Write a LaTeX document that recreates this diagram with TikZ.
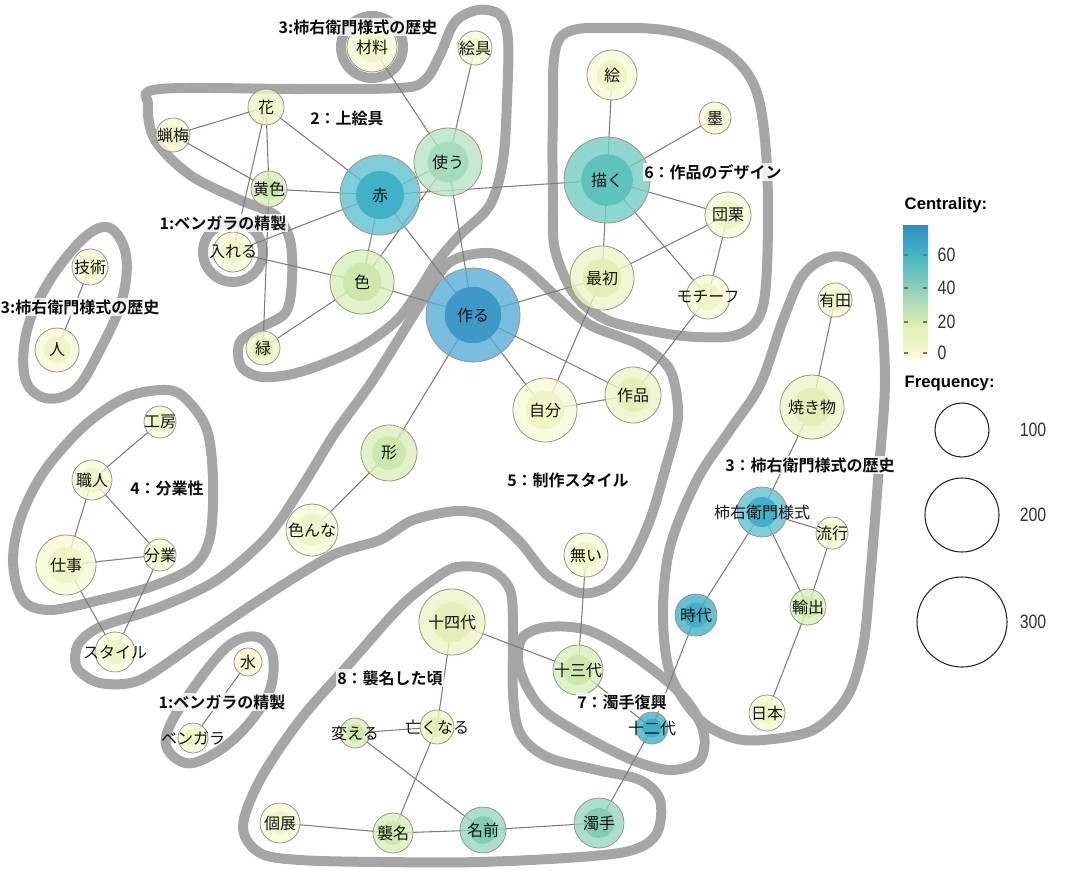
\documentclass[tikz,border=0pt]{standalone}
\usepackage{fontspec}
\setmainfont{Liberation Sans}
\newfontfamily\jp{Noto Sans CJK JP}[BoldFont={Noto Sans CJK JP Bold}]
\usepackage{tikz}
\usetikzlibrary{calc}
\pgfdeclarelayer{hulls}
\pgfdeclarelayer{edges}
\pgfsetlayers{hulls,edges,main}

\definecolor{hullgray}{HTML}{A6A6A6}
\definecolor{kwline}{HTML}{9C9582}
\definecolor{edgecol}{HTML}{857A77}
\definecolor{czo}{HTML}{F9F9D6}
\definecolor{czi}{HTML}{F1F4C6}
\definecolor{coo}{HTML}{EFF4C8}
\definecolor{coi}{HTML}{E5EEB6}
\definecolor{cto}{HTML}{DAEDBA}
\definecolor{cti}{HTML}{CDE7AD}
\definecolor{cuo}{HTML}{B8E3C6}
\definecolor{cui}{HTML}{A5DCBC}
\definecolor{cfo}{HTML}{95D6C0}
\definecolor{cfi}{HTML}{83CDB6}
\definecolor{cgo}{HTML}{76CDC5}
\definecolor{cgi}{HTML}{5EC3BD}
\definecolor{cbo}{HTML}{60C0D1}
\definecolor{cbi}{HTML}{40B1C7}
\definecolor{cdo}{HTML}{58ACD7}
\definecolor{cdi}{HTML}{3D9AC8}
\definecolor{bar0}{HTML}{FCFBD5}
\definecolor{bar20}{HTML}{D8EDB1}
\definecolor{bar40}{HTML}{8CD0BA}
\definecolor{bar60}{HTML}{44B5C4}
\definecolor{bartop}{HTML}{2D8DBF}

\begin{document}
\begin{tikzpicture}[x=0.75pt, y=-0.75pt,
	kw/.style n args={3}{circle, draw=kwline, line width=0.6pt, inner sep=0pt,
		minimum size=#1*1.5pt, fill=#2, fill opacity=0.8, text opacity=1,
		text=black!92, font=\jp\fontsize{12}{14}\selectfont,
		execute at begin node={\hbox to 0pt\bgroup\hss},
		execute at end node={\hss\egroup},
		path picture={\fill[#3, fill opacity=1] (path picture bounding box.center) circle (#1*0.45pt);}},
	edge/.style={draw=edgecol, line width=0.8pt},
	hull/.style={draw=hullgray, line width=7.5pt, line join=round},
	grp/.style={font=\jp\bfseries\fontsize{12}{14}\selectfont, text=black!95,
		fill=white, fill opacity=0.8, text opacity=1, inner sep=1pt},
	legtxt/.style={font=\fontsize{14.5}{16}\selectfont, text=black!80},
	legtitle/.style={font=\bfseries\fontsize{12.5}{14}\selectfont, anchor=west},
	tick/.style={draw=black!55, line width=0.8pt}]

	\useasboundingbox (0,0) rectangle (1072,871);

	\node[kw={25}{czo}{czi}] (zairyo) at (372,47) {材料};
	\node[kw={17}{czo}{czi}] (enogu) at (475,48) {絵具};
	\node[kw={18}{coo}{czi}] (hana) at (266,107) {花};
	\node[kw={17}{czo}{czi}] (roubai) at (173,135) {蝋梅};
	\node[kw={18}{cto}{cti}] (kiiro) at (269,189) {黄色};
	\node[kw={40}{cbo}{cbi}] (aka) at (380,195) {赤};
	\node[kw={34}{cuo}{cui}] (tsukau) at (448,162) {使う};
	\node[kw={20}{czo}{czi}] (ireru) at (233,252) {入れる};
	\node[kw={18}{czo}{czi}] (gijutsu) at (90,267) {技術};
	\node[kw={22}{czo}{czi}] (hito) at (57,350) {人};
	\node[kw={32}{cto}{cti}] (iro) at (362,282) {色};
	\node[kw={17}{coo}{coi}] (midori) at (263,348) {緑};
	\node[kw={47}{cdo}{cdi}] (tsukuru) at (473,315) {作る};

	\node[kw={25}{czo}{czi}] (e) at (612,75) {絵};
	\node[kw={16}{czo}{czi}] (sumi) at (715,118) {墨};
	\node[kw={43}{cgo}{cgi}] (egaku) at (607,180) {描く};
	\node[kw={23}{czo}{czi}] (donguri) at (728,215) {団栗};
	\node[kw={32}{coo}{coi}] (saisho) at (602,278) {最初};
	\node[kw={22}{czo}{czi}] (motif) at (708,297) {モチーフ};

	\node[kw={28}{coo}{coi}] (sakuhin) at (633,395) {作品};
	\node[kw={32}{czo}{czi}] (jibun) at (545,410) {自分};
	\node[kw={28}{cto}{cti}] (katachi) at (389,453) {形};
	\node[kw={26}{czo}{czi}] (ironna) at (312,530) {色んな};
	\node[kw={22}{czo}{czi}] (nai) at (586,555) {無い};
	\node[kw={20}{czo}{czi}] (style) at (115,652) {スタイル};

	\node[kw={17}{czo}{czi}] (arita) at (835,300) {有田};
	\node[kw={32}{coo}{coi}] (yakimono) at (812,407) {焼き物};
	\node[kw={25}{cbo}{cbi}] (kakiemon) at (762,512) {柿右衛門様式};
	\node[kw={16}{czo}{czi}] (ryuko) at (832,533) {流行};
	\node[kw={21}{cbi}{cbi}] (jidai) at (696,615) {時代};
	\node[kw={18}{cto}{cti}] (yushutsu) at (808,607) {輸出};
	\node[kw={18}{czo}{czi}] (nihon) at (767,713) {日本};

	\node[kw={25}{cto}{cti}] (jusandai) at (578,670) {十三代};
	\node[kw={16}{cbi}{cbi}] (junidai) at (652,728) {十二代};
	\node[kw={25}{cfo}{cfi}] (nigoshide) at (599,823) {濁手};

	\node[kw={16}{czo}{czi}] (kobo) at (160,422) {工房};
	\node[kw={20}{czo}{czi}] (shokunin) at (92,480) {職人};
	\node[kw={30}{czo}{czi}] (shigoto) at (66,565) {仕事};
	\node[kw={16}{czo}{czi}] (bungyo) at (160,555) {分業};

	\node[kw={14}{czo}{czi}] (mizu) at (248,662) {水};
	\node[kw={15}{czo}{czi}] (bengara) at (193,738) {ベンガラ};

	\node[kw={33}{coo}{coi}] (jushidai) at (452,622) {十四代};
	\node[kw={15}{cto}{cti}] (kaeru) at (355,733) {変える};
	\node[kw={17}{coo}{coi}] (nakunaru) at (437,727) {亡くなる};
	\node[kw={20}{czo}{czi}] (koten) at (280,823) {個展};
	\node[kw={20}{cto}{cti}] (shumei) at (393,833) {襲名};
	\node[kw={23}{cfo}{cfi}] (namae) at (483,830) {名前};

	\begin{pgfonlayer}{edges}
		\foreach \a/\b in {zairyo/tsukau, enogu/tsukau, hana/roubai, hana/kiiro, hana/aka, hana/ireru,
			roubai/kiiro, kiiro/midori, kiiro/aka, aka/ireru, aka/tsukau, aka/egaku, aka/iro, aka/tsukuru,
			tsukau/iro, tsukau/tsukuru, ireru/iro, iro/midori, iro/tsukuru, gijutsu/hito,
			e/egaku, sumi/egaku, egaku/donguri, egaku/saisho, egaku/motif, donguri/saisho, donguri/motif,
			saisho/tsukuru, saisho/jibun, motif/sakuhin, tsukuru/jibun, tsukuru/sakuhin, tsukuru/katachi,
			jibun/sakuhin, katachi/ironna, arita/yakimono, yakimono/kakiemon, kakiemon/ryuko,
			kakiemon/jidai, kakiemon/yushutsu, ryuko/yushutsu, yushutsu/nihon, jidai/junidai,
			nai/jusandai, jushidai/jusandai, jusandai/junidai, junidai/nigoshide,
			kobo/shokunin, shokunin/shigoto, shokunin/bungyo, shigoto/bungyo, shigoto/style, bungyo/style,
			mizu/bengara, jushidai/nakunaru, kaeru/nakunaru, kaeru/namae, nakunaru/shumei,
			koten/shumei, shumei/namae, namae/nigoshide}
			\draw[edge] (\a.center) -- (\b.center);
	\end{pgfonlayer}

	\begin{pgfonlayer}{hulls}
		\draw[hull] plot[smooth cycle, tension=0.55] coordinates {(160,89) (300,89) (400,88) (425,80) (440,55) (455,22) (478,10) (500,15) (508,40) (507,100) (503,160) (490,205) (460,235) (437,262) (418,292) (395,322) (355,350) (300,372) (262,377) (241,366) (240,342) (262,327) (286,312) (292,280) (290,240) (275,215) (240,200) (190,175) (155,140) (148,105)};
		\draw[hull] (zairyo.center) circle (31*0.75pt);
		\draw[hull] (ireru.center) circle (30*0.75pt);
		\draw[hull] plot[smooth cycle, tension=0.6] coordinates {(110,228) (126,255) (122,300) (100,350) (75,390) (45,398) (25,378) (27,330) (50,280) (85,237)};
		\draw[hull] plot[smooth cycle, tension=0.55] coordinates {(560,38) (620,28) (680,33) (730,55) (757,93) (767,167) (767,267) (760,315) (737,335) (697,337) (657,332) (607,320) (575,295) (555,250) (553,200) (553,120)};
		\draw[hull] plot[smooth cycle, tension=0.5] coordinates {(450,262) (490,253) (523,267) (557,297) (590,325) (640,345) (670,370) (678,417) (665,470) (650,520) (630,563) (607,587) (580,593) (547,575) (520,542) (490,517) (457,511) (413,520) (380,540) (333,555) (267,595) (200,640) (140,680) (100,683) (77,668) (78,645) (100,627) (160,607) (217,580) (267,537) (300,490) (335,433) (373,380) (423,300)};
		\draw[hull] plot[smooth cycle, tension=0.55] coordinates {(167,390) (187,400) (207,430) (213,480) (210,537) (193,567) (150,587) (100,600) (50,610) (23,600) (13,563) (20,520) (43,473) (83,427) (127,397)};
		\draw[hull] plot[smooth cycle, tension=0.55] coordinates {(830,257) (857,263) (878,295) (885,380) (878,480) (870,580) (863,647) (847,697) (813,730) (763,740) (730,737) (697,717) (670,673) (663,613) (670,547) (697,480) (730,430) (760,385) (783,320) (803,275)};
		\draw[hull] plot[smooth cycle, tension=0.55] coordinates {(523,637) (547,627) (587,630) (630,653) (680,693) (703,730) (700,760) (673,770) (640,763) (597,743) (547,713) (527,687) (518,660)};
		\draw[hull] plot[smooth cycle, tension=0.55] coordinates {(457,567) (490,570) (510,590) (513,630) (513,693) (520,733) (547,757) (597,770) (640,780) (660,800) (657,833) (633,850) (580,857) (480,862) (380,862) (300,860) (260,853) (243,827) (260,780) (300,720) (350,663) (400,607) (433,580)};
		\draw[hull] plot[smooth cycle, tension=0.6] coordinates {(257,637) (273,657) (267,697) (233,740) (193,763) (170,753) (167,733) (187,697) (227,647)};
	\end{pgfonlayer}

	\node[grp] (lbHistTop) at (358,27) {3:柿右衛門様式の歴史};
	\node[grp] (lbPaint) at (347,118) {2：上絵具};
	\node[grp] (lbBengTop) at (223,223) {1:ベンガラの精製};
	\node[grp] (lbHistLeft) at (80,307) {3:柿右衛門様式の歴史};
	\node[grp] (lbDesign) at (713,172) {6：作品のデザイン};
	\node[grp] (lbStyle) at (568,480) {5：制作スタイル};
	\node[grp] (lbDivide) at (167,488) {4：分業性};
	\node[grp] (lbHistRight) at (810,465) {3：柿右衛門様式の歴史};
	\node[grp] (lbRevival) at (622,702) {7：濁手復興};
	\node[grp] (lbSucceed) at (390,678) {8：襲名した頃};
	\node[grp] (lbBengLow) at (222,702) {1:ベンガラの精製};

	\node[legtitle] (centTitle) at (900,205) {Centrality:};
	\shade[bottom color=bar0, top color=bar20] (903,357) rectangle (928,321.5);
	\shade[bottom color=bar20, top color=bar40] (903,322) rectangle (928,287.5);
	\shade[bottom color=bar40, top color=bar60] (903,288) rectangle (928,254.5);
	\shade[bottom color=bar60, top color=bartop] (903,255) rectangle (928,225);
	\foreach \v/\t in {255/60, 288/40, 322/20, 353/0} {
		\draw[tick] (904,\v) -- (908,\v);
		\draw[tick] (923,\v) -- (927,\v);
		\node[legtxt, anchor=west] at (933,\v) {\scalebox{0.82}[1]{\t}};
	}

	\node[legtitle] (freqTitle) at (900,383) {Frequency:};
	\draw[black!85, line width=0.8pt] (962,430) circle (27*0.75pt);
	\draw[black!85, line width=0.8pt] (962,515) circle (37*0.75pt);
	\draw[black!85, line width=0.8pt] (962,622) circle (45*0.75pt);
	\node[legtxt] (f100) at (1033,430) {\scalebox{0.82}[1]{100}};
	\node[legtxt] (f200) at (1033,515) {\scalebox{0.82}[1]{200}};
	\node[legtxt] (f300) at (1033,622) {\scalebox{0.82}[1]{300}};

\end{tikzpicture}
\end{document}
